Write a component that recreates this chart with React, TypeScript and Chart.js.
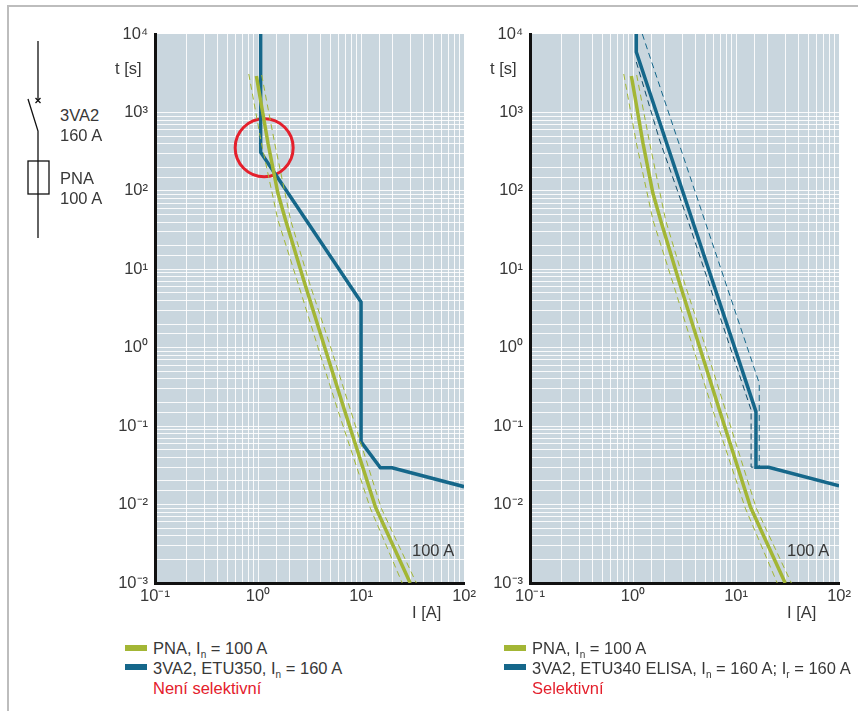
import React, { useEffect, useRef } from "react";
import { Chart, registerables } from "chart.js";

Chart.register(...registerables);

const FONT = '"Liberation Sans", Arial, sans-serif';
const TEXT = "#383838";
const GREEN = "#a3b635";
const BLUE = "#15678a";
const RED = "#e4202c";

const pnaI = [0.964, 1.25, 1.56, 1.85, 2.83, 4.42, 6.9, 13.8, 30];
const pnaT = [2913, 404, 93, 42.5, 6.68, 1.03, 0.161, 0.0093, 0.001];
const pnaLowI = [0.813, 1.078, 1.56, 2.44, 3.8, 5.94, 12.3, 25.1];
const pnaLowT = [3090, 407, 42.5, 6.68, 1.03, 0.161, 0.009, 0.001];
const pnaHighI = [1.085, 1.45, 2.07, 3.16, 5.05, 7.89, 15.7, 34.4];
const pnaHighT = [3000, 407, 42.5, 6.68, 1.03, 0.161, 0.009, 0.001];

const etu350I = [1.06, 1.06, 10, 10, 15.4, 20, 100];
const etu350T = [10000, 312, 3.83, 0.063, 0.0295, 0.0295, 0.0169];

const etu340I = [1.076, 1.076, 15.6, 15.6, 20.7, 100];
const etu340T = [10000, 5900, 0.153, 0.0299, 0.0299, 0.0173];
const etu340HighI = [1.23, 16.8, 16.8];
const etu340HighT = [10000, 0.352, 0.03];
const etu340LowI = [1.076, 1.81, 3.4, 5.94, 14, 14, 15.6];
const etu340LowT = [4395, 445, 42.5, 4.7, 0.161, 0.03, 0.03];

const markerI = [1.147];
const markerT = [355];

const SUP: Record<string, string> = { "-": "⁻", "0": "⁰", "1": "¹", "2": "²", "3": "³", "4": "⁴" };

const pts = (xs: number[], ys: number[]) => xs.map((x, i) => ({ x, y: ys[i] }));

const solid = (data: any[], color: string) => ({
  data,
  showLine: true,
  borderColor: color,
  borderWidth: 3.5,
  pointRadius: 0,
  tension: 0,
  borderJoinStyle: "miter" as const,
});
const dashed = (data: any[], color: string) => ({
  data,
  showLine: true,
  borderColor: color,
  borderWidth: 1,
  borderDash: [6, 4],
  pointRadius: 0,
  tension: 0,
});

const plotBg = {
  id: "plotBg",
  beforeDraw(c: any) {
    const { ctx, chartArea: a } = c;
    ctx.save();
    ctx.fillStyle = "#c9d6de";
    ctx.fillRect(a.left, a.top, a.right - a.left, a.bottom - a.top);
    ctx.restore();
  },
};

const tickLabel = (v: any) => {
  const l = Math.log10(Number(v));
  const r = Math.round(l);
  if (Math.abs(l - r) > 1e-6) return "";
  return "10" + String(r).split("").map((ch) => SUP[ch]).join("");
};

function makeConfig(datasets: any[]) {
  const font = { family: FONT, size: 16.5 };
  const gridWhite = "rgba(255,255,255,0.88)";
  return {
    type: "scatter" as const,
    data: { datasets },
    plugins: [plotBg],
    options: {
      animation: false as const,
      responsive: false,
      events: [],
      layout: { autoPadding: false, padding: { top: 24, right: 15, left: 0, bottom: 0 } },
      plugins: { legend: { display: false }, tooltip: { enabled: false } },
      scales: {
        x: {
          type: "logarithmic" as const,
          min: 0.1,
          max: 100,
          afterFit: (s: any) => { s.height = 47; },
          grid: { color: gridWhite, lineWidth: 1, drawTicks: false },
          border: { color: "#111111", width: 3 },
          ticks: { callback: tickLabel, autoSkip: false, maxRotation: 0, minRotation: 0, padding: 4, color: TEXT, font },
        },
        y: {
          type: "logarithmic" as const,
          min: 0.001,
          max: 10000,
          afterFit: (s: any) => { s.width = 55; },
          grid: {
            color: (ctx: any) => (ctx.tick && ctx.tick.value > 1000 ? "rgba(255,255,255,0)" : gridWhite),
            lineWidth: 1,
            drawTicks: false,
          },
          border: { color: "#111111", width: 3 },
          ticks: { callback: tickLabel, autoSkip: false, padding: 7, color: TEXT, font },
        },
      },
    },
  };
}

const abs = (left: number, top: number, extra: any = {}) => ({
  position: "absolute" as const,
  left,
  top,
  whiteSpace: "nowrap" as const,
  lineHeight: "18px",
  ...extra,
});

function Legend({ left, blue, note }: { left: number; blue: React.ReactNode; note: string }) {
  const sub = { fontSize: 10, position: "relative" as const, top: 4 };
  return (
    <>
      <div style={abs(left, 645, { width: 22, height: 6, background: GREEN, lineHeight: "6px" })} />
      <div style={abs(left, 664, { width: 22, height: 6, background: BLUE, lineHeight: "6px" })} />
      <div style={abs(left + 28, 639)}>PNA, I<span style={sub}>n</span> = 100 A</div>
      <div style={abs(left + 28, 659)}>{blue}</div>
      <div style={abs(left + 28, 679, { color: RED })}>{note}</div>
    </>
  );
}

export default function App() {
  const leftRef = useRef<HTMLCanvasElement>(null);
  const rightRef = useRef<HTMLCanvasElement>(null);

  useEffect(() => {
    const left = new Chart(leftRef.current!, makeConfig([
      dashed(pts(pnaLowI, pnaLowT), GREEN),
      dashed(pts(pnaHighI, pnaHighT), GREEN),
      solid(pts(pnaI, pnaT), GREEN),
      solid(pts(etu350I, etu350T), BLUE),
      {
        data: pts(markerI, markerT),
        pointRadius: 29,
        pointBorderWidth: 3,
        pointBorderColor: RED,
        pointBackgroundColor: "transparent",
      },
    ]) as any);
    const right = new Chart(rightRef.current!, makeConfig([
      dashed(pts(pnaLowI, pnaLowT), GREEN),
      dashed(pts(pnaHighI, pnaHighT), GREEN),
      solid(pts(pnaI, pnaT), GREEN),
      dashed(pts(etu340HighI, etu340HighT), BLUE),
      dashed(pts(etu340LowI, etu340LowT), "#0e4a68"),
      solid(pts(etu340I, etu340T), BLUE),
    ]) as any);
    return () => {
      left.destroy();
      right.destroy();
    };
  }, []);

  const sub = { fontSize: 10, position: "relative" as const, top: 4 };

  return (
    <div style={{ position: "absolute", left: 0, top: 0, width: 858, height: 711, background: "#fff", overflow: "hidden", fontFamily: FONT, fontSize: 16.5, color: TEXT }}>
      <div style={{ position: "absolute", left: 7, top: 5, width: 860, height: 720, border: "2px solid #bdbdbd", boxSizing: "border-box" }} />
      <canvas ref={leftRef} width={380} height={620} style={{ position: "absolute", left: 100, top: 10 }} />
      <canvas ref={rightRef} width={380} height={620} style={{ position: "absolute", left: 475, top: 10 }} />

      <svg width={60} height={250} style={{ position: "absolute", left: 0, top: 0 }} fill="none" stroke="#111" strokeWidth={1.3}>
        <path d="M38 41V100M28 99L38 131V238" />
        <path d="M35.5 98l5 5M40.5 98l-5 5" />
        <rect x={28} y={161} width={21} height={33} />
      </svg>
      <div style={abs(60, 106)}>3VA2</div>
      <div style={abs(60, 126)}>160 A</div>
      <div style={abs(60, 169)}>PNA</div>
      <div style={abs(60, 189)}>100 A</div>

      <div style={abs(115, 59)}>t [s]</div>
      <div style={abs(490, 59)}>t [s]</div>
      <div style={abs(412, 603)}>I [A]</div>
      <div style={abs(787, 603)}>I [A]</div>
      <div style={abs(412, 541)}>100 A</div>
      <div style={abs(787, 541)}>100 A</div>

      <Legend left={125} note="Není selektivní" blue={<>3VA2, ETU350, I<span style={sub}>n</span> = 160 A</>} />
      <Legend left={504} note="Selektivní" blue={<>3VA2, ETU340 ELISA, I<span style={sub}>n</span> = 160 A; I<span style={sub}>r</span> = 160 A</>} />
    </div>
  );
}
